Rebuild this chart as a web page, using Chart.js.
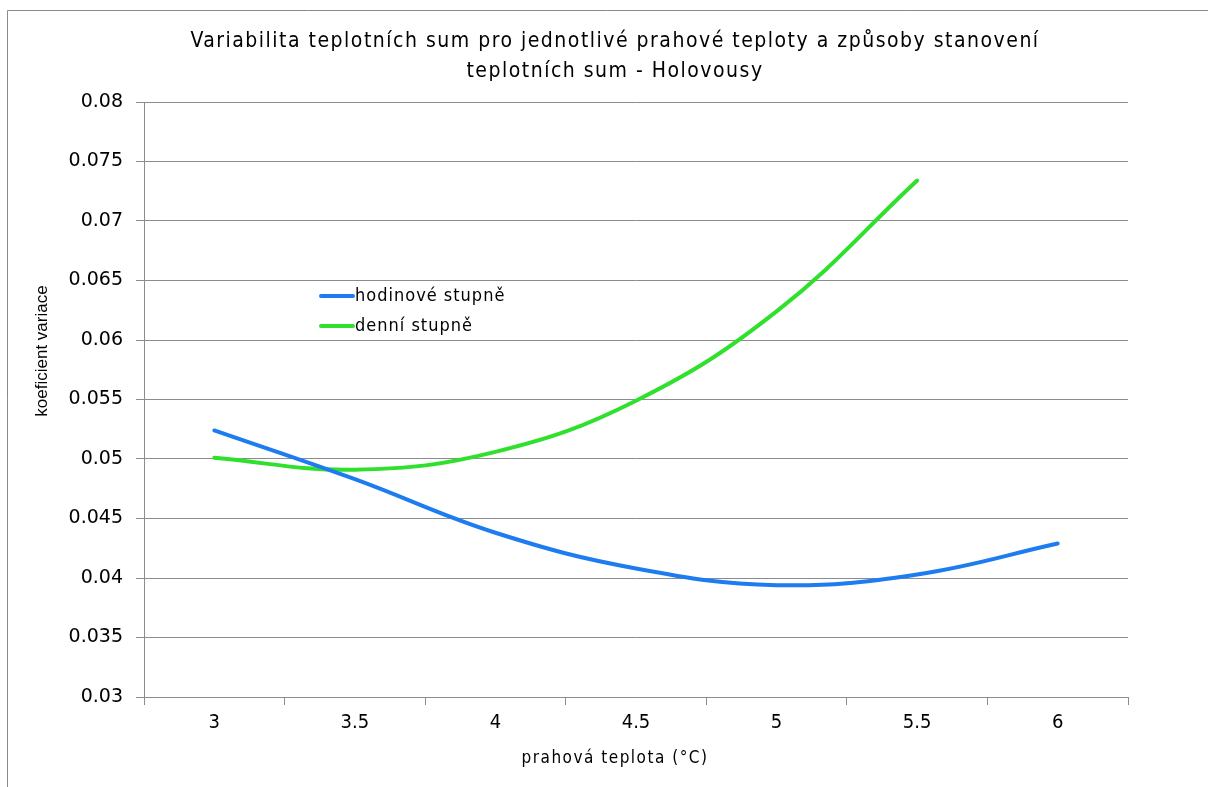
<!DOCTYPE html>
<html><head><meta charset="utf-8">
<script src="https://cdn.jsdelivr.net/npm/chart.js@4/dist/chart.umd.min.js"></script>
<style>html,body{margin:0;padding:0;background:#fff}#wrap{width:1208px;height:787px;position:relative}</style>
</head><body><div id="wrap"><canvas id="c" width="1208" height="787"></canvas></div>
<script>
const categories = ['3','3.5','4','4.5','5','5.5','6'];
const hodinove = [0.0524, 0.0483, 0.0438, 0.0408, 0.0394, 0.0403, 0.0429];
const denni = [0.0501, 0.0491, 0.0506, 0.0549, 0.0624, 0.0734, null];
const seriesNames = ['hodinové stupně', 'denní stupně'];
const titleLines = ['Variabilita teplotních sum pro jednotlivé prahové teploty a způsoby stanovení', 'teplotních sum - Holovousy'];
const yTitle = 'koeficient variace';
const xTitle = 'prahová teplota (°C)';

const BLUE = '#1c7cf0', GREEN = '#2fe02c', GRID = '#8c8c8c';
const condFont = '"DejaVu Sans Condensed", "DejaVu Sans", sans-serif';

function spaced(ctx, px) { if ('letterSpacing' in ctx) ctx.letterSpacing = px; }

const framePlugin = {
  id: 'frame',
  beforeDraw(chart) {
    const ctx = chart.ctx;
    ctx.save();
    ctx.fillStyle = '#fff';
    ctx.fillRect(0, 0, chart.width, chart.height);
    ctx.strokeStyle = '#8a8a8a';
    ctx.lineWidth = 1;
    ctx.beginPath();
    ctx.moveTo(7.5, chart.height);
    ctx.lineTo(7.5, 10.5);
    ctx.lineTo(chart.width, 10.5);
    ctx.stroke();
    ctx.restore();
  },
  afterDraw(chart) {
    const ctx = chart.ctx;
    const ca = chart.chartArea;
    ctx.save();
    ctx.fillStyle = '#000';
    // main title
    ctx.font = '21px ' + condFont;
    spaced(ctx, '1.5px');
    ctx.textAlign = 'center';
    ctx.textBaseline = 'alphabetic';
    ctx.fillText(titleLines[0], 615, 47);
    ctx.fillText(titleLines[1], 615, 77);
    // x axis title
    ctx.font = '17px ' + condFont;
    ctx.fillText(xTitle, 615, 763);
    spaced(ctx, '0px');
    // y axis title
    ctx.save();
    ctx.translate(42, 351);
    ctx.rotate(-Math.PI / 2);
    ctx.font = '17px "Liberation Sans", Arial, sans-serif';
    ctx.textBaseline = 'middle';
    ctx.fillText(yTitle, 0, 0);
    ctx.restore();
    // legend
    const items = [[BLUE, seriesNames[0], 296], [GREEN, seriesNames[1], 326]];
    ctx.font = '18px ' + condFont;
    spaced(ctx, '1px');
    ctx.textAlign = 'left';
    ctx.textBaseline = 'middle';
    items.forEach(([col, txt, y]) => {
      ctx.strokeStyle = col; ctx.lineWidth = 4; ctx.lineCap = 'round';
      ctx.beginPath(); ctx.moveTo(321, y); ctx.lineTo(353, y); ctx.stroke();
      ctx.fillStyle = '#000';
      ctx.fillText(txt, 355, y);
    });
    spaced(ctx, '0px');
    ctx.restore();
  }
};

new Chart(document.getElementById('c'), {
  type: 'line',
  data: {
    labels: categories,
    datasets: [
      { label: seriesNames[0], data: hodinove, borderColor: BLUE, borderWidth: 4, pointRadius: 0, tension: 0.4, borderCapStyle: 'round', fill: false },
      { label: seriesNames[1], data: denni, borderColor: GREEN, borderWidth: 4, pointRadius: 0, tension: 0.4, borderCapStyle: 'round', fill: false }
    ]
  },
  options: {
    responsive: false,
    animation: false,
    devicePixelRatio: 1,
    layout: { padding: { left: 8, right: 80, top: 102, bottom: 0 } },
    plugins: {
      legend: { display: false },
      tooltip: { enabled: false },
      title: { display: false }
    },
    scales: {
      x: {
        type: 'category', offset: true,
        grid: { offset: true, drawOnChartArea: false, color: GRID, tickLength: 8, tickColor: GRID },
        border: { color: GRID },
        ticks: { color: '#000', font: { family: condFont, size: 20 }, padding: 6, maxRotation: 0 },
        afterFit(s) { s.height = 90; }
      },
      y: {
        min: 0.03, max: 0.08,
        grid: { color: GRID, tickLength: 8, tickColor: GRID },
        border: { color: GRID },
        ticks: { stepSize: 0.005, color: '#000', font: { family: '"DejaVu Sans", sans-serif', size: 19 }, padding: 13,
          callback: v => String(Math.round(v * 1000) / 1000) },
        afterFit(s) { s.width = 136; }
      }
    }
  },
  plugins: [framePlugin]
});
</script></body></html>
